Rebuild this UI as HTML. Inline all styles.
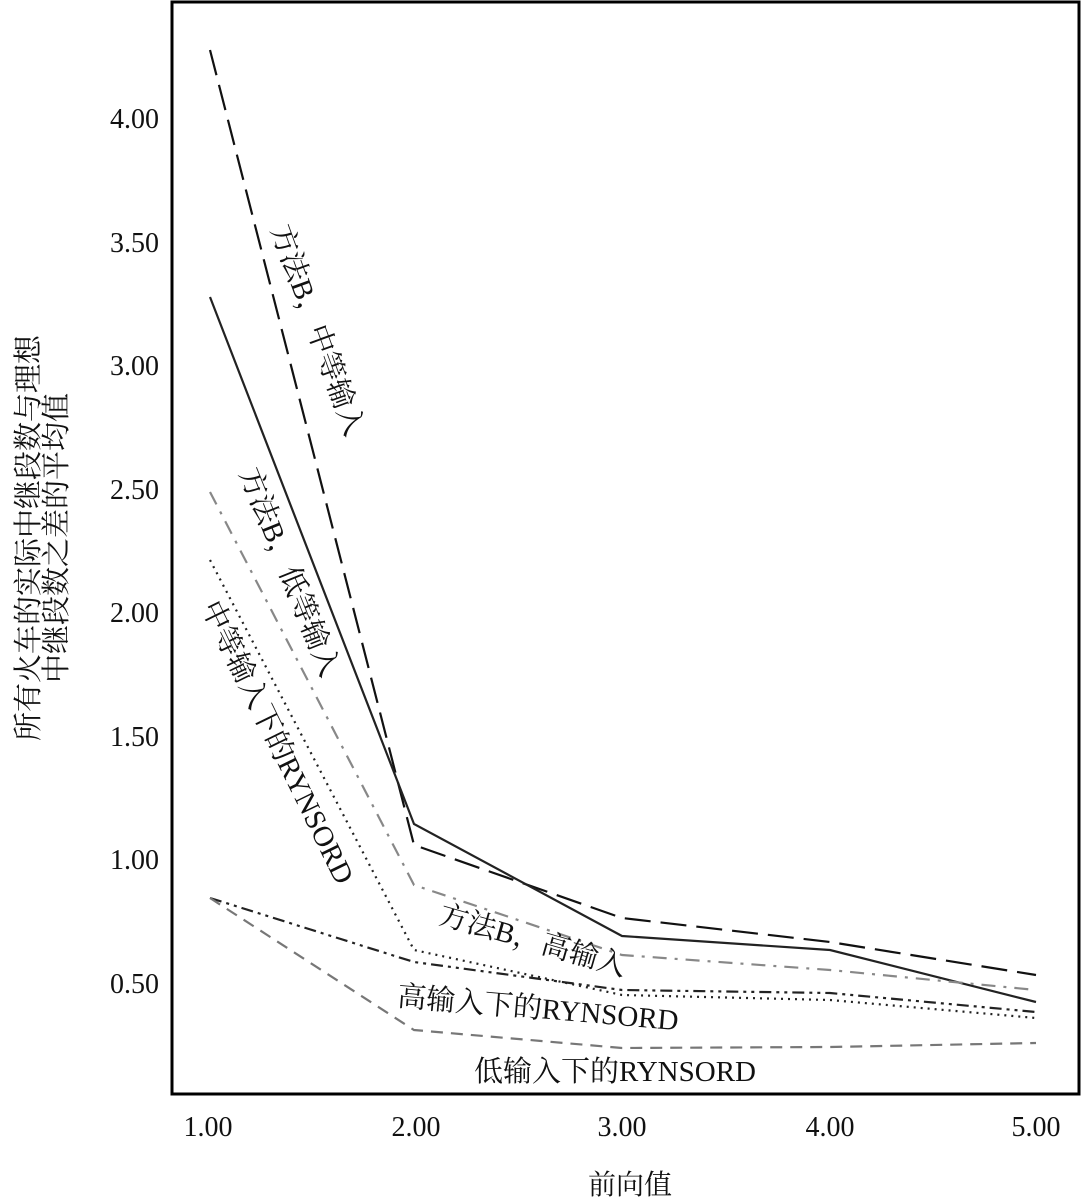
<!DOCTYPE html>
<html><head><meta charset="utf-8"><style>
html,body{margin:0;padding:0;background:#fff;}
svg{display:block;}
text{font-family:"Liberation Serif","Noto Serif CJK SC",serif;fill:#111;}
</style></head><body>
<svg width="1082" height="1200" viewBox="0 0 1082 1200">
<rect x="172" y="2" width="907" height="1092" fill="none" stroke="#000" stroke-width="3"/>
<g font-size="28" text-anchor="end">
<text x="159" y="128">4.00</text>
<text x="159" y="252">3.50</text>
<text x="159" y="375">3.00</text>
<text x="159" y="499">2.50</text>
<text x="159" y="622">2.00</text>
<text x="159" y="746">1.50</text>
<text x="159" y="869">1.00</text>
<text x="159" y="993">0.50</text>
</g>
<g font-size="28" text-anchor="middle">
<text x="208" y="1136">1.00</text>
<text x="416" y="1136">2.00</text>
<text x="622" y="1136">3.00</text>
<text x="830" y="1136">4.00</text>
<text x="1036" y="1136">5.00</text>
<text x="630" y="1194">前向值</text>
</g>
<g font-size="29" text-anchor="middle">
<text transform="translate(38,538) rotate(-90)">所有火车的实际中继段数与理想</text>
<text transform="translate(66,538) rotate(-90)">中继段数之差的平均值</text>
</g>
<g fill="none" stroke-width="2.2">
<polyline points="210,50 414,845 622,918 830,942 1036,975" stroke="#111" stroke-dasharray="26,10"/>
<polyline points="210,297 414,824 622,936 830,950 1036,1002" stroke="#222"/>
<polyline points="210,492 414,885 622,955 830,970 1036,990" stroke="#888" stroke-dasharray="14,8,3,8"/>
<polyline points="210,560 414,950 622,995 830,1000 1036,1018" stroke="#222" stroke-dasharray="2,5"/>
<polyline points="210,898 414,962 622,990 830,993 1036,1012" stroke="#222" stroke-dasharray="12,5,3,5,3,5"/>
<polyline points="210,898 414,1030 622,1048 830,1047 1036,1043" stroke="#777" stroke-dasharray="12,8"/>
</g>
<g font-size="29" text-anchor="middle">
<text transform="translate(318,330) rotate(70)" dy="10">方法B，中等输入</text>
<text transform="translate(290,572) rotate(68)" dy="10">方法B，低等输入</text>
<text transform="translate(278,742) rotate(64)" dy="10">中等输入下的RYNSORD</text>
<text transform="translate(533,940) rotate(16)" dy="10">方法B，高输入</text>
<text transform="translate(538,1008) rotate(5)" dy="10">高输入下的RYNSORD</text>
<text x="615" y="1081">低输入下的RYNSORD</text>
</g>
</svg>
</body></html>
